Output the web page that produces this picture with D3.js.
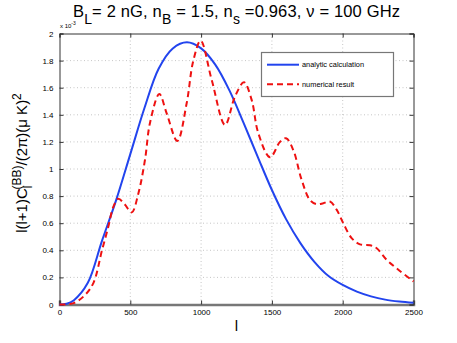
<!DOCTYPE html>
<html>
<head>
<meta charset="utf-8">
<script src="https://cdn.jsdelivr.net/npm/d3@7"></script>
<style>
  body { margin: 0; background: #fff; }
  text { font-family: "Liberation Sans", Arial, sans-serif; fill: #000; }
</style>
</head>
<body>
<div id="chart"></div>
<script>
// analytic calculation (blue), values in units of 1e-3
const analyticL = [0, 50, 100, 200, 300, 400, 500, 600, 700, 800, 900, 1000, 1100, 1200, 1300, 1400, 1500, 1600, 1700, 1800, 1900, 2000, 2100, 2200, 2300, 2400, 2500];
const analyticV = [0, 0.005, 0.03, 0.16, 0.47, 0.77, 1.11, 1.45, 1.74, 1.89, 1.935, 1.89, 1.77, 1.58, 1.34, 1.09, 0.845, 0.63, 0.455, 0.315, 0.21, 0.144, 0.095, 0.06, 0.036, 0.022, 0.013];

// numerical result (red dashed)
const numericL = [0, 100, 180, 240, 300, 345, 380, 415, 460, 510, 557, 604, 639, 705, 757, 832, 898, 945, 997, 1075, 1169, 1239, 1303, 1357, 1404, 1487, 1557, 1600, 1651, 1710, 1769, 1816, 1863, 1910, 1957, 2004, 2063, 2122, 2193, 2240, 2310, 2381, 2487, 2500];
const numericV = [0, 0.01, 0.07, 0.16, 0.40, 0.575, 0.72, 0.78, 0.74, 0.68, 0.82, 1.07, 1.34, 1.553, 1.41, 1.207, 1.485, 1.80, 1.947, 1.657, 1.325, 1.534, 1.64, 1.51, 1.264, 1.086, 1.20, 1.227, 1.14, 0.92, 0.77, 0.74, 0.747, 0.76, 0.70, 0.60, 0.49, 0.444, 0.437, 0.415, 0.33, 0.267, 0.18, 0.17];

const xTicks = [0, 500, 1000, 1500, 2000, 2500];
const yTicks = [0, 0.2, 0.4, 0.6, 0.8, 1, 1.2, 1.4, 1.6, 1.8, 2];
const legendLabels = ["analytic calculation", "numerical result"];

const W = 457, H = 343;
const pl = 59.5, pr = 413.5, pt = 33.5, pb = 304.5;

const svg = d3.select("#chart").append("svg")
  .attr("width", W).attr("height", H);

const x = d3.scaleLinear().domain([0, 2500]).range([pl, pr]);
const y = d3.scaleLinear().domain([0, 2]).range([pb, pt]);

// grid
const grid = svg.append("g").attr("stroke", "#b8b8b8").attr("stroke-width", 0.8).attr("stroke-dasharray", "1,2.5");
grid.selectAll(".gx").data(xTicks.slice(1, -1)).join("line")
  .attr("x1", d => x(d)).attr("x2", d => x(d)).attr("y1", pt).attr("y2", pb);
grid.selectAll(".gy").data(yTicks.slice(1, -1)).join("line")
  .attr("x1", pl).attr("x2", pr).attr("y1", d => y(d)).attr("y2", d => y(d));

// axes (MATLAB style: inward ticks, box)
const ax = svg.append("g").attr("transform", `translate(0,${pb})`)
  .call(d3.axisBottom(x).tickValues(xTicks).tickSize(-4).tickPadding(5).tickFormat(d3.format("d")));
const ay = svg.append("g").attr("transform", `translate(${pl},0)`)
  .call(d3.axisLeft(y).tickValues(yTicks).tickSize(-4).tickPadding(6).tickFormat(d => d3.format("~g")(d)));
const ax2 = svg.append("g").attr("transform", `translate(0,${pt})`)
  .call(d3.axisTop(x).tickValues(xTicks).tickSize(-4).tickFormat(""));
const ay2 = svg.append("g").attr("transform", `translate(${pr},0)`)
  .call(d3.axisRight(y).tickValues(yTicks).tickSize(-4).tickFormat(""));
[ax, ay, ax2, ay2].forEach(g => {
  g.select(".domain").attr("stroke", "#333").attr("stroke-width", 1);
  g.selectAll(".tick line").attr("stroke", "#333");
  g.selectAll("text").attr("font-size", 8).attr("font-family", "Liberation Sans, Arial, sans-serif").attr("fill", "#000");
});
ax.select(".domain").attr("stroke", "#777").attr("stroke-width", 2.5);

// curves
const analytic = analyticL.map((l, i) => [l, analyticV[i]]);
const numeric = numericL.map((l, i) => [l, numericV[i]]);
const line = d3.line().x(d => x(d[0])).y(d => y(d[1])).curve(d3.curveCatmullRom.alpha(0.5));

svg.append("path").datum(analytic).attr("d", line)
  .attr("fill", "none").attr("stroke", "#2244ee").attr("stroke-width", 2);
svg.append("path").datum(numeric).attr("d", line)
  .attr("fill", "none").attr("stroke", "#ee1111").attr("stroke-width", 2)
  .attr("stroke-dasharray", "6,4");

// exponent label
const ex = svg.append("text").attr("x", 60).attr("y", 27.5).attr("font-size", 6);
ex.append("tspan").text("x 10");
ex.append("tspan").attr("dy", -3).attr("font-size", 5).text("-3");

// legend
const lg = svg.append("g");
lg.append("rect").attr("x", 261.5).attr("y", 52.5).attr("width", 132).attr("height", 44)
  .attr("fill", "#fff").attr("stroke", "#777").attr("stroke-width", 1.2);
const styles = [{ c: "#2244ee", d: null }, { c: "#ee1111", d: "6,4" }];
legendLabels.forEach((t, i) => {
  const yy = 64.7 + i * 19.6;
  lg.append("line").attr("x1", 267).attr("x2", 299).attr("y1", yy).attr("y2", yy)
    .attr("stroke", styles[i].c).attr("stroke-width", 2).attr("stroke-dasharray", styles[i].d);
  lg.append("text").attr("x", 302).attr("y", yy + 2.5).attr("font-size", 7.4).text(t);
});

// title
const title = svg.append("text").attr("x", 73).attr("y", 17).attr("font-size", 16.5)
  .attr("textLength", 327).attr("lengthAdjust", "spacing");
title.append("tspan").text("B");
title.append("tspan").attr("dy", 7).attr("font-size", 14).text("L");
title.append("tspan").attr("dy", -7).text("= 2 nG, n");
title.append("tspan").attr("dy", 7).attr("font-size", 14).text("B");
title.append("tspan").attr("dy", -7).text(" = 1.5, n");
title.append("tspan").attr("dy", 7).attr("font-size", 14).text("s");
title.append("tspan").attr("dy", -7).text(" =0.963, \u03bd = 100 GHz");

// x label
svg.append("text").attr("x", 236.5).attr("y", 331).attr("text-anchor", "middle").attr("font-size", 15).text("l");

// y label
const yl = svg.append("text").attr("transform", "translate(27,163) rotate(-90)")
  .attr("text-anchor", "middle").attr("font-size", 15);
yl.append("tspan").text("l(l+1)C");
yl.append("tspan").attr("dy", 5).attr("font-size", 12).text("l");
yl.append("tspan").attr("dy", -11).attr("dx", -4).attr("font-size", 12).text("(BB)");
yl.append("tspan").attr("dy", 6).text("/(2\u03c0)(\u03bc K)");
yl.append("tspan").attr("dy", -6).attr("font-size", 12).text("2");
</script>
</body>
</html>
